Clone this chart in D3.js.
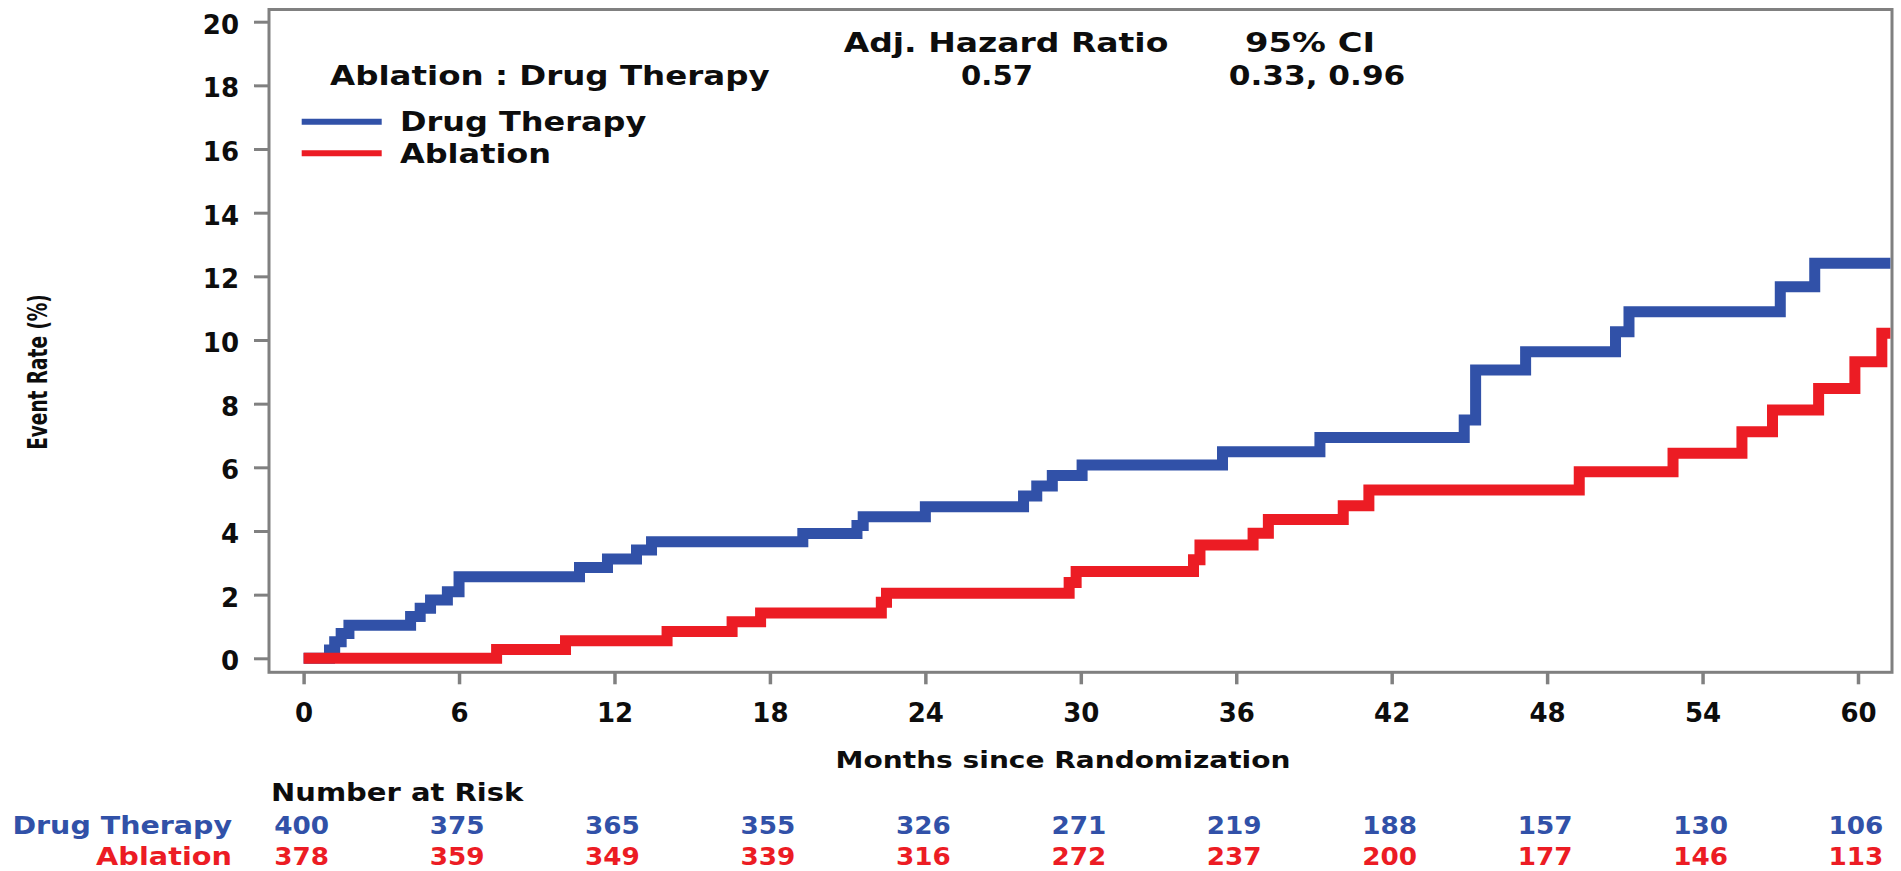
<!DOCTYPE html>
<html>
<head>
<meta charset="utf-8">
<script src="https://cdn.jsdelivr.net/npm/d3@7"></script>
<style>
  html, body { margin: 0; padding: 0; background: #fff; }
  svg { display: block; }
  text { font-family: "DejaVu Sans", sans-serif; font-weight: bold; }
</style>
</head>
<body>
<svg id="chart" width="1901" height="871"></svg>
<script>
// Cumulative event rate (%) step functions: month of each step and rate after it
const drugMonths = [0, 1.0, 1.2, 1.45, 1.75, 4.13, 4.5, 4.9, 5.55, 6.0, 10.65, 11.73, 12.85, 13.43, 19.27, 21.36, 21.6, 24.0, 27.79, 28.3, 28.9, 30.05, 35.47, 39.23, 44.8, 45.24, 47.17, 50.64, 51.16, 57.0, 58.33, 61.25];
const drugRates  = [0, 0.26, 0.52, 0.78, 1.04, 1.31, 1.57, 1.83, 2.09, 2.56, 2.85, 3.12, 3.4, 3.66, 3.92, 4.17, 4.45, 4.76, 5.1, 5.41, 5.74, 6.07, 6.49, 6.94, 7.49, 9.06, 9.63, 10.26, 10.89, 11.67, 12.41, 12.41];
const ablationMonths = [0, 7.45, 10.11, 14.03, 16.54, 17.64, 22.3, 22.5, 29.55, 29.82, 34.35, 34.6, 36.65, 37.24, 40.13, 41.12, 49.24, 52.86, 55.52, 56.7, 58.48, 59.88, 60.92, 61.25];
const ablationRates  = [0, 0.28, 0.55, 0.84, 1.15, 1.42, 1.76, 2.04, 2.38, 2.73, 3.1, 3.56, 3.93, 4.36, 4.79, 5.29, 5.86, 6.44, 7.12, 7.8, 8.48, 9.32, 10.21, 10.21];

const monthTicks = [0, 6, 12, 18, 24, 30, 36, 42, 48, 54, 60];
const rateTicks = [0, 2, 4, 6, 8, 10, 12, 14, 16, 18, 20];

// Number at risk at each month tick
const riskDrug = [400, 375, 365, 355, 326, 271, 219, 188, 157, 130, 106];
const riskAblation = [378, 359, 349, 339, 316, 272, 237, 200, 177, 146, 113];

const groupNames = ["Drug Therapy", "Ablation"];
const comparisonLabel = "Ablation : Drug Therapy";
const hazardHeader = "Adj. Hazard Ratio";
const ciHeader = "95% CI";
const hazardValue = "0.57";
const ciValue = "0.33, 0.96";

const BLUE = "#3151a8";
const RED = "#ec1c24";
const INK = "#0d0d0d";
const FRAME = "#808080";

const svg = d3.select("#chart");

// Plot frame
const frame = { left: 269, right: 1892, top: 9.5, bottom: 672.3 };

const x = d3.scaleLinear().domain([0, 60]).range([303.6, 1858]);
const y = d3.scaleLinear().domain([0, 20]).range([658.3, 21.7]);

// Text with a horizontal stretch, anchored at (px, py)
function label(parent, px, py, str, o) {
  const g = parent.append("g")
    .attr("transform", `translate(${px},${py}) scale(${o.sx || 1},1)`);
  g.append("text")
    .attr("text-anchor", o.anchor || "start")
    .style("font-size", o.size + "px")
    .attr("fill", o.fill || INK)
    .text(str);
  return g;
}

// Axes (ticks and numbers)
const yAxis = svg.append("g")
  .attr("transform", `translate(${frame.left},0)`)
  .call(d3.axisLeft(y).tickValues(rateTicks).tickSize(15).tickPadding(15).tickFormat(d3.format("d")));
yAxis.select(".domain").remove();
yAxis.selectAll(".tick line").attr("stroke", FRAME).attr("stroke-width", 3);
yAxis.selectAll(".tick text")
  .attr("dy", "0.44em")
  .attr("fill", INK)
  .style("font-size", "26px");

const xAxis = svg.append("g")
  .attr("transform", `translate(0,${frame.bottom})`)
  .call(d3.axisBottom(x).tickValues(monthTicks).tickSize(12).tickPadding(19).tickFormat(d3.format("d")));
xAxis.select(".domain").remove();
xAxis.selectAll(".tick line").attr("stroke", FRAME).attr("stroke-width", 3.5);
xAxis.selectAll(".tick text")
  .attr("fill", INK)
  .style("font-size", "26px");

// Frame box
svg.append("rect")
  .attr("x", frame.left).attr("y", frame.top)
  .attr("width", frame.right - frame.left)
  .attr("height", frame.bottom - frame.top)
  .attr("fill", "none")
  .attr("stroke", FRAME)
  .attr("stroke-width", 3);

// Step curves
const step = d3.line()
  .x(d => x(d[0]))
  .y(d => y(d[1]))
  .curve(d3.curveStepAfter);

const drugPts = drugMonths.map((m, i) => [m, drugRates[i]]);
const ablPts = ablationMonths.map((m, i) => [m, ablationRates[i]]);

svg.append("path")
  .attr("d", step(drugPts))
  .attr("fill", "none")
  .attr("stroke", BLUE)
  .attr("stroke-width", 11)
  .attr("stroke-linejoin", "miter");

svg.append("path")
  .attr("d", step(ablPts))
  .attr("fill", "none")
  .attr("stroke", RED)
  .attr("stroke-width", 11)
  .attr("stroke-linejoin", "miter");

// Axis titles
const yt = svg.append("g").attr("transform", "translate(47,372) scale(1.45,1) rotate(-90)");
yt.append("text")
  .attr("text-anchor", "middle")
  .style("font-size", "18.5px")
  .attr("fill", INK)
  .text("Event Rate (%)");

label(svg, 1063, 768, "Months since Randomization", { size: 23, sx: 1.22, anchor: "middle" });

// Hazard ratio header
label(svg, 330, 85, comparisonLabel, { size: 26, sx: 1.25 });
label(svg, 1006, 52, hazardHeader, { size: 26, sx: 1.27, anchor: "middle" });
label(svg, 1310, 52, ciHeader, { size: 26, sx: 1.3, anchor: "middle" });
label(svg, 997, 85, hazardValue, { size: 26, sx: 1.12, anchor: "middle" });
label(svg, 1317, 85, ciValue, { size: 26, sx: 1.2, anchor: "middle" });

// Legend
const legendY = [121.7, 153.3];
const legendColors = [BLUE, RED];
groupNames.forEach((name, i) => {
  svg.append("line")
    .attr("x1", 301.7).attr("x2", 381.7)
    .attr("y1", legendY[i]).attr("y2", legendY[i])
    .attr("stroke", legendColors[i])
    .attr("stroke-width", 6);
  label(svg, 400, legendY[i] + 9.5, name, { size: 26, sx: 1.23 });
});

// Number at risk table
label(svg, 271, 801, "Number at Risk", { size: 25, sx: 1.16 });
const riskRows = [
  { name: groupNames[0], values: riskDrug, color: BLUE, base: 834, sx: 1.14 },
  { name: groupNames[1], values: riskAblation, color: RED, base: 865, sx: 1.15 }
];
riskRows.forEach(row => {
  label(svg, 232, row.base, row.name, { size: 25, sx: row.sx, anchor: "end", fill: row.color });
  row.values.forEach((v, i) => {
    label(svg, x(monthTicks[i]) - 2, row.base, String(v), { size: 25, sx: 1.05, anchor: "middle", fill: row.color });
  });
});
</script>
</body>
</html>
